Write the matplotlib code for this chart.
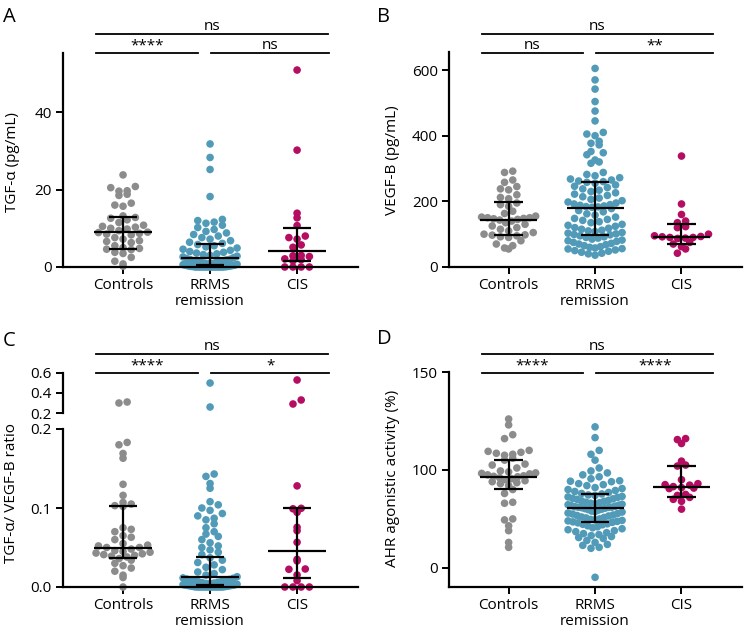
import numpy as np
import matplotlib
matplotlib.use("Agg")
import matplotlib.pyplot as plt
from matplotlib import transforms

plt.rcParams['font.family'] = ['Open Sans', 'DejaVu Sans']
plt.rcParams['font.size'] = 11

groups = ["Controls", "RRMS\nremission", "CIS"]
colors = ["#8c8c8c", "#519bb8", "#b50d62"]

# ---- panel A: TGF-alpha (pg/mL)
tgf_controls = [23.8, 20.8, 20.5, 19.7, 19.6, 18.8, 18.5, 16.5, 16.0, 15.7, 13.2, 12.8, 12.6, 12.2,
                11.5, 10.8, 10.5, 10.3, 10.0, 9.8, 9.4, 9.0, 8.9, 8.7, 8.5, 8.3, 7.6, 7.2, 6.8, 6.6,
                6.3, 5.5, 5.0, 4.8, 4.6, 4.5, 3.8, 3.5, 2.5, 1.5, 0.8, 0.2]
tgf_rrms = [31.8, 28.3, 25.2, 18.2,
            12.3, 12.0, 11.6, 11.3, 10.8, 10.2, 9.7, 9.2, 8.8, 8.4, 8.0, 7.6, 7.2, 6.8, 6.4, 6.1,
            5.8, 5.5, 5.2, 4.9, 4.6, 4.3, 4.0, 3.8, 3.6, 3.4, 3.2, 3.0, 2.8, 2.6, 2.4,
            2.2, 2.0, 1.9, 1.8, 1.6, 1.5, 1.4, 1.3, 1.2, 1.1, 1.0, 0.9, 0.8, 0.7, 0.6, 0.5, 0.5, 0.4,
            0.35, 0.3, 0.25, 0.2, 0.15, 0.1, 0.1, 0.05, 0, 0, 0, 0, 0, 0, 0, 0, 0, 0, 0, 0, 0, 0]
tgf_cis = [50.9, 30.2, 13.9, 12.7, 10.7, 8.0, 7.6, 7.2, 5.7, 5.1, 3.0, 2.9, 2.7, 2.1, 1.9, 1.6,
           0, 0, 0, 0]
tgf_median = [9.1, 2.3, 4.2]
tgf_q1 = [4.6, 0.5, 1.6]
tgf_q3 = [12.8, 5.9, 10.1]

# ---- panel B: VEGF-B (pg/mL)
vegf_controls = [292, 288, 265, 258, 245, 238, 235, 220, 212, 208, 195, 190, 185, 170, 163, 155,
                 152, 150, 150, 148, 147, 145, 143, 140, 135, 130, 125, 120, 115, 110, 105, 100,
                 98, 97, 95, 92, 90, 80, 70, 65, 58, 55]
vegf_rrms = [605, 570, 542, 504, 475, 445, 410, 405, 400, 383, 377, 372, 352, 348, 342, 326, 320, 316,
             288, 282, 278, 272, 268, 265, 262, 260, 258, 255,
             250, 246, 242, 238, 234, 230, 226, 222, 218, 214, 210, 206, 202, 198, 195, 192, 190,
             188, 186, 184, 183, 182,
             178, 172, 168, 162, 158, 152, 148, 145, 142, 138, 135, 130, 127, 124, 120, 118, 115,
             112, 110, 108, 105, 103, 101, 99, 98,
             95, 92, 90, 88, 85, 82, 80, 78, 75, 72, 70, 68, 65, 62, 60, 58, 56, 55, 52, 50, 48,
             45, 42, 40, 36]
vegf_cis = [338, 192, 160, 140, 135, 123, 120, 100, 95, 93, 92, 90, 90, 88, 87, 75, 70, 62, 55, 42]
vegf_median = [144, 181, 90.4]
vegf_q1 = [97.5, 97.5, 70]
vegf_q3 = [198, 259, 130]

# ---- panel C: TGF-alpha / VEGF-B ratio
ratio_controls = [0.31, 0.30, 0.183, 0.180, 0.169, 0.163, 0.130, 0.116, 0.107, 0.105, 0.103, 0.102,
                  0.075, 0.073, 0.070, 0.065, 0.063, 0.060, 0.055, 0.053, 0.052, 0.050, 0.050,
                  0.048, 0.046, 0.045, 0.044, 0.043, 0.042, 0.041, 0.040, 0.039, 0.038, 0.036,
                  0.034, 0.030, 0.027, 0.024, 0.020, 0.015, 0.012, 0.0]
ratio_rrms = [0.50, 0.26, 0.143, 0.140, 0.131, 0.125, 0.108, 0.104, 0.100, 0.097, 0.093, 0.090,
              0.087, 0.085, 0.080, 0.075, 0.070, 0.067, 0.064, 0.060, 0.056, 0.052, 0.050, 0.047,
              0.044, 0.041,
              0.037, 0.034, 0.031, 0.028, 0.025, 0.022, 0.019, 0.017, 0.015, 0.013,
              0.0115, 0.011, 0.010, 0.0095, 0.009, 0.008, 0.0075, 0.007, 0.0065, 0.006, 0.0055,
              0.005, 0.0045, 0.004, 0.0035, 0.003, 0.0028, 0.0025, 0.0022, 0.002, 0.0018, 0.0015,
              0.0012, 0.001, 0.0008, 0.0005, 0.0003, 0.0001, 0, 0, 0, 0, 0, 0, 0, 0, 0, 0, 0, 0]
ratio_cis = [0.53, 0.33, 0.29, 0.128, 0.0996, 0.099, 0.0945, 0.0756, 0.0713, 0.0566, 0.035, 0.033,
             0.0228, 0.0224, 0.0152, 0.008, 0, 0, 0, 0]
ratio_median = [0.0498, 0.0122, 0.046]
ratio_q1 = [0.0363, 0.0025, 0.011]
ratio_q3 = [0.1025, 0.0384, 0.0996]

# ---- panel D: AHR agonistic activity (%)
ahr_controls = [126, 123, 118, 116, 110, 109.5, 109, 108.5, 108, 107.5, 106, 105, 103, 102.5, 101,
                99, 98, 97, 96.5, 96, 95, 94, 93.5, 93, 92, 91, 90, 89, 88, 87, 86, 84, 80, 76,
                67, 66, 50, 49, 43, 38, 26, 21]
ahr_rrms = [122, 116.5, 110, 108, 105, 101, 99, 97, 95, 93, 91, 89, 88.5, 88, 86, 85, 84, 82, 81,
            80, 79, 78, 77, 76, 75.5,
            74.5, 74, 73, 72.5, 72, 71, 70.5, 70, 69, 68.5, 68, 67, 66.5, 66, 65.5, 65, 64.5, 64,
            63.5, 63, 62.5, 62, 62, 61.8, 61.5,
            61, 60.5, 60, 59.5, 59, 58, 57.5, 57, 56, 55.5, 55, 54, 53.5, 53, 52, 51.5, 51, 50,
            49.5, 49, 48.5, 48, 47.5, 47, 46.5,
            46, 45, 44.5, 44, 43, 42, 41, 40, 39, 38, 37, 36, 35, 34, 33, 32, 31, 30, 28, 26, 24,
            23, 21, 20, -9.6]
ahr_cis = [116, 115.5, 113.5, 104.5, 102.5, 102, 90, 86, 85, 84.5, 83, 82, 81.5, 81, 75, 74, 72,
           70, 68, 60]
ahr_median = [93.2, 61.4, 82.3]
ahr_q1 = [80.5, 46.4, 72.7]
ahr_q3 = [105.1, 75.1, 102.2]

W, H = 745, 632
fig = plt.figure(figsize=(W / 100, H / 100), dpi=100)


def box(l, t, r, b):
    return [l / W, 1 - b / H, (r - l) / W, (b - t) / H]


def style(ax):
    ax.spines['top'].set_visible(False)
    ax.spines['right'].set_visible(False)
    ax.spines['left'].set_linewidth(1.6)
    ax.spines['bottom'].set_linewidth(1.6)
    ax.tick_params(direction='out', length=5, width=1.4, labelsize=11, pad=3)
    ax.set_xlim(-0.69, 2.70)
    ax.set_facecolor('none')


def swarm_offsets(ypix, binh=8.0, step=8.2, maxhalf=27.0):
    ypix = np.asarray(ypix, float)
    off = np.zeros_like(ypix)
    bins = np.floor(ypix / binh).astype(int)
    for b in np.unique(bins):
        idx = np.where(bins == b)[0]
        idx = idx[np.argsort(ypix[idx])]
        n = len(idx)
        s = step if n < 2 else min(step, 2 * maxhalf / (n - 1))
        pos = (np.arange(n) - (n - 1) / 2) * s
        order = sorted(range(n), key=lambda k: (round(abs(pos[k]), 4), pos[k]))
        for j, k in enumerate(order):
            off[idx[j]] = pos[k]
    return off


def draw_group(ax_for_value, xpos, vals, color):
    vals = np.asarray(vals, float)
    ypix = np.array([ax_for_value(v).transData.transform((0, v))[1] for v in vals])
    off = swarm_offsets(ypix)
    for v, o in zip(vals, off):
        ax = ax_for_value(v)
        x0 = ax.transData.transform((0, 0))[0]
        x1 = ax.transData.transform((1, 0))[0]
        ax.scatter(xpos + o / (x1 - x0), v, s=30, color=color, edgecolors='none',
                   clip_on=False, zorder=2)


def summary(ax, med, q1, q3):
    kw = dict(color='black', lw=1.6, zorder=4, solid_capstyle='butt', clip_on=False)
    for i in range(3):
        ax.plot([i - 0.33, i + 0.33], [med[i], med[i]], **kw)
        ax.plot([i - 0.165, i + 0.165], [q1[i], q1[i]], **kw)
        ax.plot([i - 0.165, i + 0.165], [q3[i], q3[i]], **kw)
        ax.plot([i, i], [q1[i], q3[i]], **kw)


def bracket(ax, x0, x1, ytop, label):
    tf = transforms.blended_transform_factory(ax.transData, fig.transFigure)
    ax.plot([x0, x1], [1 - ytop / H] * 2, color='black', lw=1.3, transform=tf, clip_on=False)
    ax.text((x0 + x1) / 2, 1 - (ytop - 4) / H, label, transform=tf, ha='center',
            va='baseline', fontsize=11)


def brackets(ax, ytop, labels):
    bracket(ax, -0.31, 2.36, ytop, labels[0])
    bracket(ax, -0.31, 0.86, ytop + 19, labels[1])
    bracket(ax, 1.01, 2.37, ytop + 19, labels[2])


def xlabels(ax):
    ax.set_xticks(range(3))
    ax.set_xticklabels(groups, linespacing=1.05)


# ---- A
axA = fig.add_axes(box(63, 53, 358, 267))
style(axA)
axA.set_ylim(0, 55.3)
axA.set_yticks([0, 20, 40])
xlabels(axA)
for i, vals in enumerate([tgf_controls, tgf_rrms, tgf_cis]):
    draw_group(lambda v: axA, i, vals, colors[i])
summary(axA, tgf_median, tgf_q1, tgf_q3)
brackets(axA, 34.3, ["ns", "****", "ns"])

# ---- B
axB = fig.add_axes(box(449, 52, 742, 267))
style(axB)
axB.set_ylim(0, 655)
axB.set_yticks([0, 200, 400, 600])
xlabels(axB)
for i, vals in enumerate([vegf_controls, vegf_rrms, vegf_cis]):
    draw_group(lambda v: axB, i, vals, colors[i])
summary(axB, vegf_median, vegf_q1, vegf_q3)
brackets(axB, 34.3, ["ns", "ns", "**"])

# ---- C (broken axis)
axC = fig.add_axes(box(63, 429, 358, 587))
axC2 = fig.add_axes(box(63, 373, 358, 413))
style(axC)
style(axC2)
axC.set_ylim(0, 0.2)
axC.set_yticks([0, 0.1, 0.2])
axC.set_yticklabels(["0.0", "0.1", "0.2"])
xlabels(axC)
axC2.set_ylim(0.2, 0.6)
axC2.set_yticks([0.2, 0.4, 0.6])
axC2.set_yticklabels(["0.2", "0.4", "0.6"])
axC2.spines['bottom'].set_visible(False)
axC2.set_xticks([])
pick_c = lambda v: axC if v <= 0.2 else axC2
for i, vals in enumerate([ratio_controls, ratio_rrms, ratio_cis]):
    draw_group(pick_c, i, vals, colors[i])
summary(axC, ratio_median, ratio_q1, ratio_q3)
brackets(axC, 354.3, ["ns", "****", "*"])


# ---- D
def fwd(v):
    v = np.asarray(v, float)
    return np.where(v <= 100, v / 100.0, 1 + (v - 100) / 50.0)


def inv(u):
    u = np.asarray(u, float)
    return np.where(u <= 1, u * 100.0, 100 + (u - 1) * 50.0)


axD = fig.add_axes(box(449, 372, 742, 587))
style(axD)
axD.set_yscale('function', functions=(fwd, inv))
axD.set_ylim(-19.5, 150)
axD.set_yticks([0, 100, 150])
axD.set_yticklabels(["0", "100", "150"])
axD.minorticks_off()
xlabels(axD)
for i, vals in enumerate([ahr_controls, ahr_rrms, ahr_cis]):
    draw_group(lambda v: axD, i, vals, colors[i])
summary(axD, ahr_median, ahr_q1, ahr_q3)
brackets(axD, 354.3, ["ns", "****", "****"])

# axis titles and panel letters
fig.text(12 / W, 1 - 162 / H, "TGF-α (pg/mL)", rotation=90, ha='center', va='center', fontsize=11)
fig.text(392 / W, 1 - 160 / H, "VEGF-B (pg/mL)", rotation=90, ha='center', va='center', fontsize=11)
fig.text(12 / W, 1 - 493 / H, "TGF-α/ VEGF-B ratio", rotation=90, ha='center', va='center', fontsize=11)
fig.text(392 / W, 1 - 478 / H, "AHR agonistic activity (%)", rotation=90, ha='center', va='center',
         fontsize=11)
for letter, x, y in [("A", 3, 7), ("B", 377, 7), ("C", 3, 331), ("D", 377, 329)]:
    fig.text(x / W, 1 - y / H, letter, fontsize=14.5, ha='left', va='top')

fig.savefig("out.png", dpi=100)
